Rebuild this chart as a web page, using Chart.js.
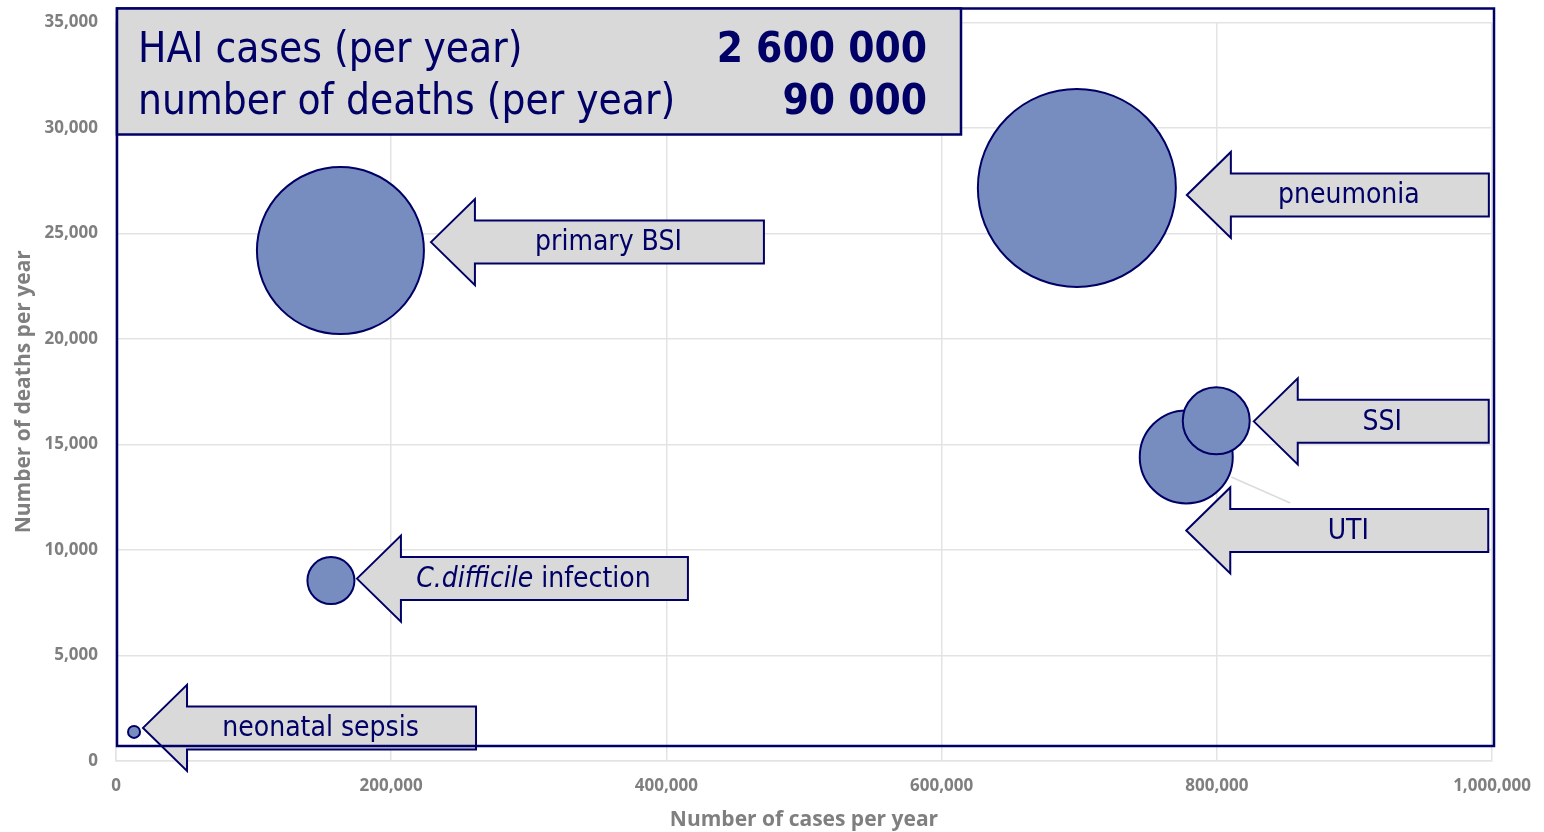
<!DOCTYPE html>
<html><head><meta charset="utf-8">
<script src="https://cdn.jsdelivr.net/npm/chart.js@4.4.1/dist/chart.umd.min.js"></script>
<style>html,body{margin:0;padding:0;background:#fff;overflow:hidden}#wrap{width:1544px;height:832px;position:relative}</style>
</head><body><div id="wrap"><canvas id="c"></canvas></div>
<script>
// ---- data ----
const categories = ['neonatal sepsis', 'C.difficile infection', 'primary BSI', 'pneumonia', 'UTI', 'SSI'];
const casesPerYear = [13100, 156200, 163100, 698300, 777800, 799600];
const deathsPerYear = [1380, 8550, 24190, 27160, 14410, 16120];
const bubbleSize = [6, 23.5, 83.5, 99, 46.5, 33.5];
const xTickValues = [0, 200000, 400000, 600000, 800000, 1000000];
const yTickValues = [0, 5000, 10000, 15000, 20000, 25000, 30000, 35000];
const summaryLabels = ['HAI cases (per year)', 'number of deaths (per year)'];
const summaryValues = ['2 600 000', '90 000'];

// ---- styling / annotation layout (pixels relative to each bubble) ----
const NAVY = '#000066';
const LABEL_FONT = "'DejaVu Sans Condensed', 'DejaVu Sans', sans-serif";
const arrowLayout = [
  {gap: 3, dy: -4, len: 333},
  {gap: 2.5, dy: -2, len: 331},
  {gap: 7, dy: -8.5, len: 333},
  {gap: 11, dy: 7, len: 302},
  {gap: -46.5, dy: 73.5, len: 302, leader: [45, 20, 104, 46]},
  {gap: 4, dy: 0.5, len: 235}
];

function labelParts(name) {
  if (name === 'C.difficile infection') return [{t: 'C.difficile', italic: true}, {t: ' infection'}];
  return [{t: name}];
}

const overlayPlugin = {
  id: 'overlay',
  afterDatasetsDraw(chart) {
    const ctx = chart.ctx, a = chart.chartArea;
    const meta = chart.getDatasetMeta(0);
    ctx.save();
    meta.data.forEach((pt, i) => {
      const L = arrowLayout[i];
      if (L.leader) {
        ctx.beginPath();
        ctx.moveTo(pt.x + L.leader[0], pt.y + L.leader[1]);
        ctx.lineTo(pt.x + L.leader[2], pt.y + L.leader[3]);
        ctx.lineWidth = 1.5;
        ctx.strokeStyle = '#dcdcdc';
        ctx.stroke();
      }
      const r = bubbleSize[i];
      const tx = pt.x + r + L.gap, ty = pt.y + L.dy;
      const hb = tx + 44, tail = tx + L.len;
      ctx.beginPath();
      ctx.moveTo(tx, ty);
      ctx.lineTo(hb, ty - 43);
      ctx.lineTo(hb, ty - 21.5);
      ctx.lineTo(tail, ty - 21.5);
      ctx.lineTo(tail, ty + 21.5);
      ctx.lineTo(hb, ty + 21.5);
      ctx.lineTo(hb, ty + 43);
      ctx.closePath();
      ctx.fillStyle = '#d9d9d9';
      ctx.fill();
      ctx.lineWidth = 2;
      ctx.strokeStyle = NAVY;
      ctx.lineJoin = 'miter';
      ctx.stroke();
      const parts = labelParts(categories[i]);
      let total = 0;
      parts.forEach(p => {
        ctx.font = (p.italic ? 'italic ' : '') + '28px ' + LABEL_FONT;
        p.w = ctx.measureText(p.t).width; total += p.w;
      });
      let x = (hb + tail) / 2 - 11 - total / 2;
      ctx.fillStyle = NAVY;
      ctx.textBaseline = 'middle';
      ctx.textAlign = 'left';
      parts.forEach(p => {
        ctx.font = (p.italic ? 'italic ' : '') + '28px ' + LABEL_FONT;
        ctx.fillText(p.t, x, ty + 1);
        x += p.w;
      });
    });
    // frame
    const fl = a.left + 1, ft = a.top - 14, fr = a.right + 2, fb = a.bottom - 15;
    ctx.lineWidth = 2.5;
    ctx.strokeStyle = NAVY;
    ctx.strokeRect(fl, ft, fr - fl, fb - ft);
    // summary box
    const bl = fl, bt = ft, bw = 844, bh = 126;
    ctx.fillStyle = '#d9d9d9';
    ctx.fillRect(bl, bt, bw, bh);
    ctx.strokeRect(bl, bt, bw, bh);
    ctx.fillStyle = NAVY;
    ctx.textBaseline = 'middle';
    summaryLabels.forEach((s, k) => {
      const y = bt + 43 + k * 52;
      ctx.font = '42px ' + LABEL_FONT;
      ctx.textAlign = 'left';
      ctx.fillText(s, bl + 21, y);
      ctx.font = 'bold 42px ' + LABEL_FONT;
      ctx.textAlign = 'right';
      ctx.fillText(summaryValues[k], bl + bw - 34, y);
    });
    ctx.restore();
  }
};

const fmt = v => Number(v).toLocaleString('en-US');
const GRAY = '#7f7f7f';
const tickFont = {family: "'Open Sans', sans-serif", size: 17, weight: '700'};
const titleFont = {family: "'Open Sans', sans-serif", size: 21, weight: '700', lineHeight: 1.1};

new Chart(document.getElementById('c'), {
  type: 'bubble',
  data: {
    labels: categories,
    datasets: [{
      data: casesPerYear.map((x, i) => ({x: x, y: deathsPerYear[i], r: bubbleSize[i]})),
      backgroundColor: '#778dc0',
      borderColor: NAVY,
      borderWidth: 2,
      hoverRadius: 0
    }]
  },
  options: {
    responsive: true,
    maintainAspectRatio: false,
    animation: false,
    events: [],
    layout: {autoPadding: false, padding: {left: 0, top: 22.5, right: 52, bottom: 0}},
    plugins: {legend: {display: false}, tooltip: {enabled: false}},
    scales: {
      x: {
        type: 'linear', min: 0, max: 1000000,
        afterBuildTicks: s => { s.ticks = xTickValues.map(v => ({value: v})); },
        afterFit: s => { s.height = 71; s.paddingLeft = 0; s.paddingRight = 0; },
        grid: {color: '#e3e3e3', lineWidth: 1.5, drawTicks: false},
        border: {color: '#e3e3e3', width: 1.5},
        ticks: {callback: fmt, color: GRAY, font: tickFont, padding: 15, maxRotation: 0},
        title: {display: true, text: 'Number of cases per year', color: GRAY, font: titleFont, padding: {top: 0, bottom: 0}}
      },
      y: {
        type: 'linear', min: 0, max: 35000,
        afterBuildTicks: s => { s.ticks = yTickValues.map(v => ({value: v})); },
        afterFit: s => { s.width = 116; s.paddingTop = 0; s.paddingBottom = 0; },
        grid: {color: '#e3e3e3', lineWidth: 1.5, drawTicks: false},
        border: {color: '#e3e3e3', width: 1.5},
        ticks: {callback: fmt, color: GRAY, font: tickFont, padding: 18},
        title: {display: true, text: 'Number of deaths per year', color: GRAY, font: titleFont, padding: {top: 12.5, bottom: 0}}
      }
    }
  },
  plugins: [overlayPlugin]
});
</script></body></html>
